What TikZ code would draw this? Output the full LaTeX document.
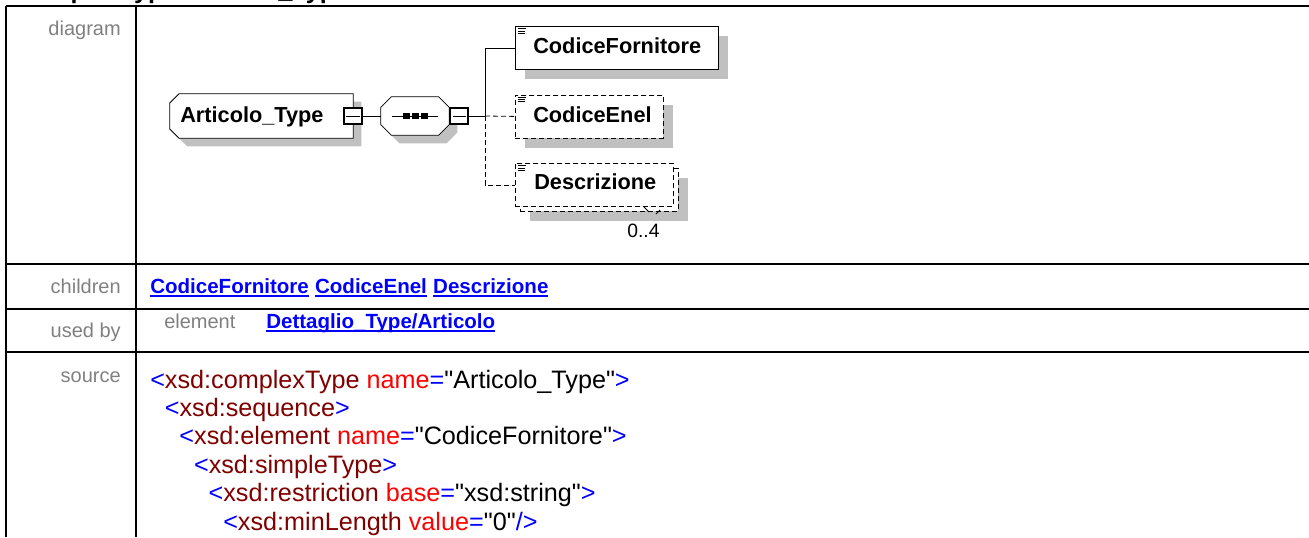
\documentclass[tikz,border=0pt]{standalone}
\usepackage{fontspec}
\setmainfont{Liberation Sans}
\newfontfamily\codefont{Liberation Sans}
\usepackage{tikz}
\usetikzlibrary{shadows,positioning}

\definecolor{lblgray}{HTML}{808080}
\definecolor{shgray}{HTML}{C0C0C0}
\definecolor{xblue}{HTML}{0000FF}
\definecolor{xtag}{HTML}{800000}
\definecolor{xattr}{HTML}{FF0000}

\newcommand\ulnk[1]{\setbox0\hbox{#1}\rlap{\rule[-2.8pt]{\wd0}{1.3pt}}\box0}
\newcommand\xo[1]{\textcolor{xblue}{<}\textcolor{xtag}{#1}}
\newcommand\xa[2]{ \textcolor{xattr}{#1}\textcolor{xblue}{=}"#2"}
\newcommand\xc{\textcolor{xblue}{>}}
\newcommand\xe{\textcolor{xblue}{/>}}
% outline of a box with cut corners: node, left cut, right cut
\newcommand\octpath[3]{([xshift=#2]#1.north west) -- ([xshift=-#3]#1.north east) -- ([yshift=-#3]#1.north east)
  -- ([yshift=#3]#1.south east) -- ([xshift=-#3]#1.south east) -- ([xshift=#2]#1.south west)
  -- ([yshift=#2]#1.south west) -- ([yshift=-#2]#1.north west) -- cycle}

\tikzset{
  grid/.style={line width=1.7pt},
  lbl/.style={font=\fontsize{15}{18}\selectfont, text=lblgray, inner sep=0pt},
  lnk/.style={font=\fontsize{15.4}{18}\selectfont\bfseries, text=xblue, inner sep=0pt},
  code/.style={font=\codefont\fontsize{18.9}{22}\selectfont, inner sep=0pt, anchor=base west},
  titlefont/.style={font=\fontsize{18.75}{22}\selectfont\bfseries, inner sep=0pt, anchor=base west},
  ename/.style={font=\fontsize{16.3}{19}\selectfont\bfseries, inner sep=0pt, anchor=base west},
  elem/.style={draw, fill=white, line width=0.6pt, minimum height=32.25pt, anchor=north west,
    inner sep=0pt, drop shadow={shadow xshift=7.5pt, shadow yshift=-7.5pt, fill=shgray, opacity=1}},
  optl/.style={dash pattern=on 3.75pt off 2.25pt},
  conn/.style={line width=0.6pt},
  mbox/.style={draw, fill=white, line width=1.5pt, minimum width=13.5pt, minimum height=12pt, inner sep=0pt,
    path picture={\draw[line width=0.6pt] ([xshift=1.8pt]path picture bounding box.west) -- ([xshift=-1.8pt]path picture bounding box.east);}},
  cbox/.style={inner sep=0pt},
  cshadow/.style={fill=shgray, transform canvas={xshift=6pt, yshift=-6pt}}
}

\begin{document}
\begin{tikzpicture}[x=0.75pt, y=-0.75pt]
\useasboundingbox (0,0) rectangle (1309,537);
\clip (0,0) rectangle (1309,537);

% Title (cut off at the top)
\node[titlefont] (ttl) at (19,-1.5) {complexType Articolo\_Type};

% Table
\draw[grid] (6,6) -- (1309,6);
\draw[grid] (6,6) -- (6,537);
\draw[grid] (136,6) -- (136,537);
\draw[grid] (6,264) -- (1309,264);
\draw[grid] (6,309) -- (1309,309);
\draw[grid] (6,352) -- (1309,352);

% Row labels
\node[lbl, anchor=base east] (l-diag) at (121,35) {diagram};
\node[lbl, anchor=base east] (l-chld) at (121,293) {children};
\node[lbl, anchor=base east] (l-used) at (121,337) {used by};
\node[lbl, anchor=base east] (l-src) at (121,382) {source};

% Diagram
\node[cbox, minimum width=137.25pt, minimum height=33pt] (at) at (261.5,116) {};
\fill[cshadow] \octpath{at}{7pt}{0pt};
\filldraw[fill=white, conn] \octpath{at}{7pt}{0pt};
\node[ename] (at-t) at (180,122) {Articolo\_Type};
\node[mbox] (mb1) at (353,116) {};

\node[cbox, minimum width=51pt, minimum height=28.5pt] (seq) at (415,116) {};
\fill[cshadow] \octpath{seq}{8pt}{8pt};
\filldraw[fill=white, conn] \octpath{seq}{8pt}{8pt};
\draw[conn] ([xshift=8.25pt]seq.west) -- ([xshift=-8.25pt]seq.east);
\foreach \i in {-1,0,1}
  \fill ([xshift=\i*6.75pt]seq.center) ++(-2.6pt,-2.25pt) rectangle ++(5.25pt,4.5pt);
\node[mbox, right=0pt of seq] (mb2) {};

\coordinate (sp) at (485,116);

\node[elem, minimum width=152.25pt] (cf) at (515,26) {};
\node[elem, optl, minimum width=111pt] (ce) at (515,94.5) {};
\node[elem, optl, minimum width=118.5pt] (ds2) at (520,168) {};
\node[draw, fill=white, line width=0.6pt, optl, minimum width=118.5pt, minimum height=32.25pt,
  anchor=north west, inner sep=0pt] (ds) at (515,163) {};

% Icons
\foreach \b in {cf,ce,ds}
  \draw[line width=0.5pt] (\b.north west) ++(3,2.7) -- ++(8,0) ++(-8,2.3) -- ++(7,0) ++(-7,2.3) -- ++(7,0);

\node[ename] (cf-t) at (533,53) {CodiceFornitore};
\node[ename] (ce-t) at (533,122) {CodiceEnel};
\node[ename] (ds-t) at (534,189) {Descrizione};

% Occurrence
\draw[conn] (644,207) -- (649,212);
\draw[conn] (656,214) -- (660,210);
\node[inner sep=0pt, anchor=base west, font=\fontsize{14.5}{17}\selectfont] (occ) at (627,237) {0..4};

% Connectors
\draw[conn] (mb1.east) -- (seq.west);
\draw[conn] (mb2.east) -- (sp);
\draw[conn] (sp) |- (cf.west);
\draw[conn, optl] (sp) -- (ce.west);
\draw[conn, optl] (sp) |- (ds.west);

% Children and used by
\node[lnk, anchor=base west] (k-cf) at (150,293) {\ulnk{CodiceFornitore}};
\node[lnk, base right=4.3pt of k-cf] (k-ce) {\ulnk{CodiceEnel}};
\node[lnk, base right=4.3pt of k-ce] (k-ds) {\ulnk{Descrizione}};
\node[lbl, anchor=base west] (u-el) at (164,328) {element};
\node[lnk, anchor=base west] (u-lk) at (266,328) {\ulnk{Dettaglio\_Type/Articolo}};

% Source
\node[code] (src1) at (150,388) {\xo{xsd:complexType}\xa{name}{Articolo\_Type}\xc};
\node[code] (src2) at (164.6,416.4) {\xo{xsd:sequence}\xc};
\node[code] (src3) at (179.2,444.8) {\xo{xsd:element}\xa{name}{CodiceFornitore}\xc};
\node[code] (src4) at (193.8,473.2) {\xo{xsd:simpleType}\xc};
\node[code] (src5) at (208.4,501.6) {\xo{xsd:restriction}\xa{base}{xsd:string}\xc};
\node[code] (src6) at (223,530) {\xo{xsd:minLength}\xa{value}{0}\xe};
\end{tikzpicture}
\end{document}
